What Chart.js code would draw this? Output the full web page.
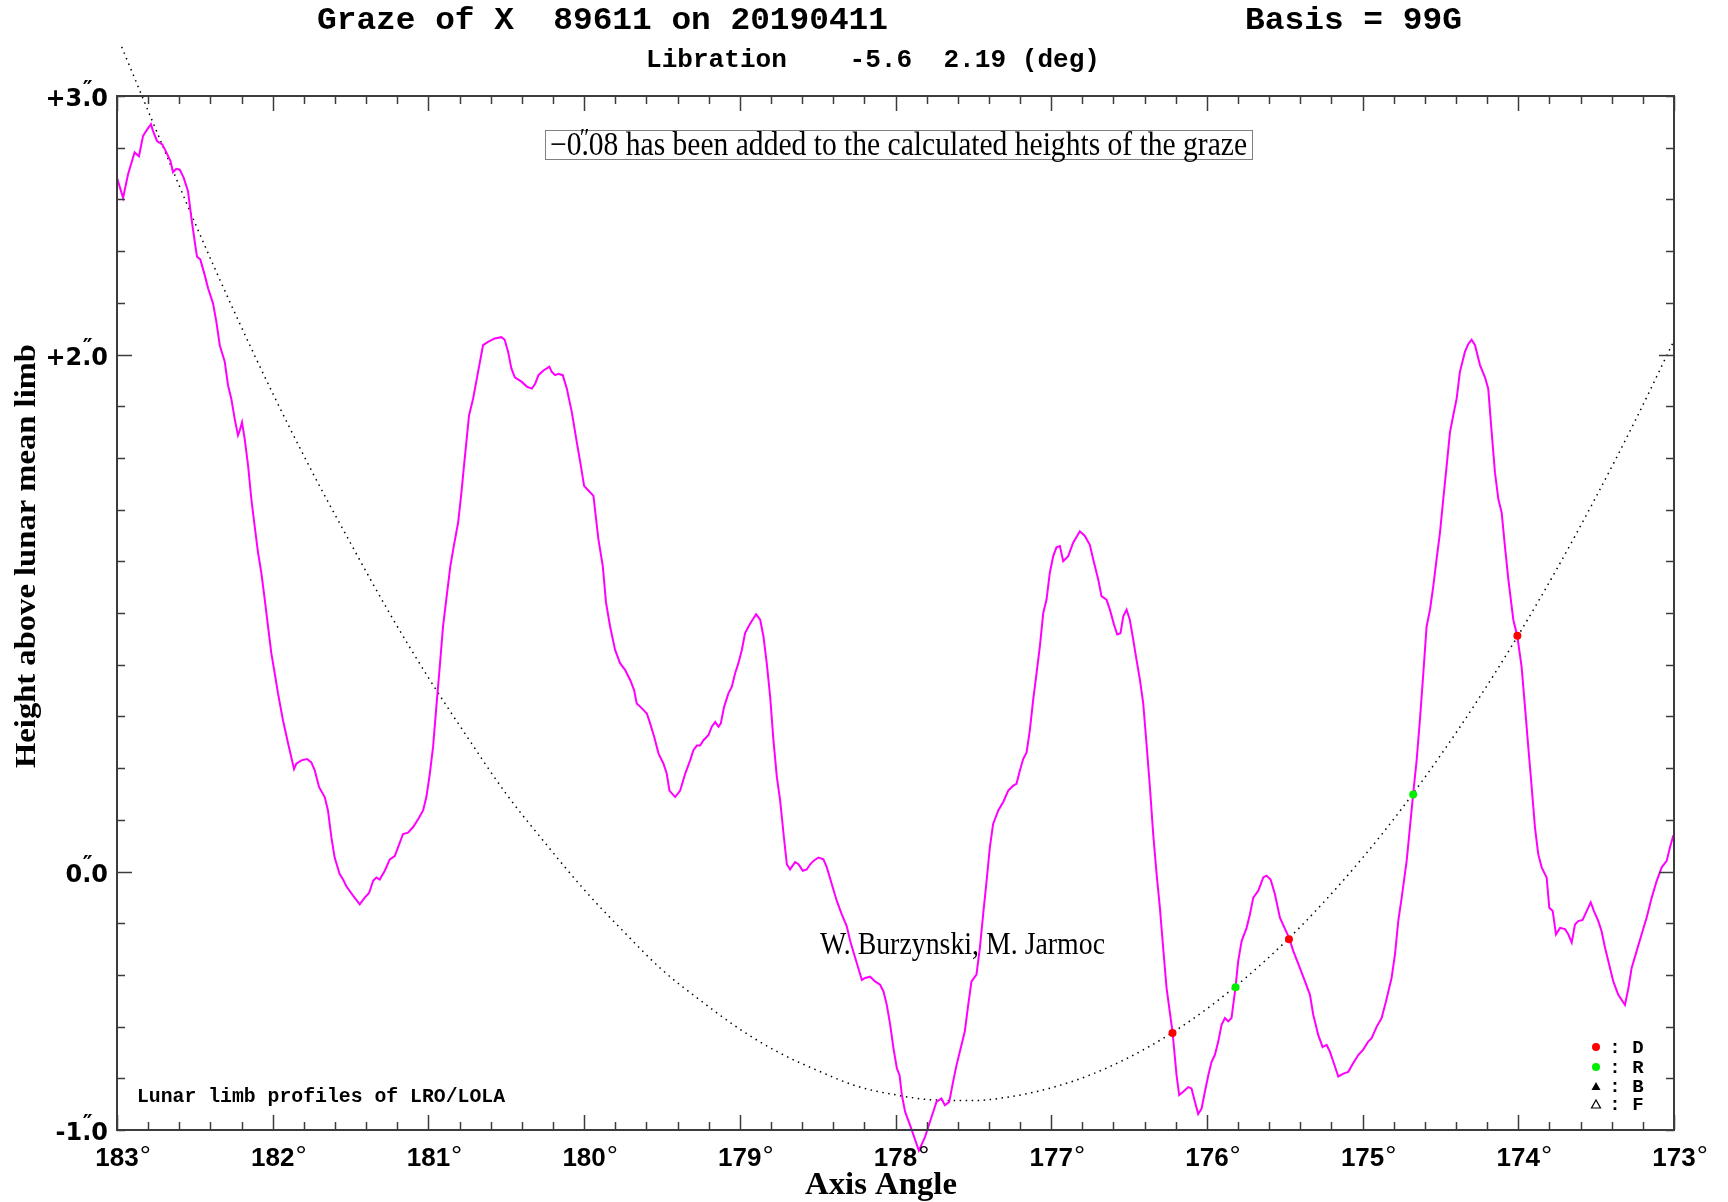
<!DOCTYPE html>
<html>
<head>
<meta charset="utf-8">
<script src="https://cdn.jsdelivr.net/npm/chart.js@4.4.1/dist/chart.umd.min.js"></script>
<style>
html,body{margin:0;padding:0;background:#fff;}
canvas{display:block;}
</style>
</head>
<body>
<canvas id="c" width="1728" height="1202"></canvas>
<script>
// ---------------- data ----------------
const limbAngle = [
183.000,182.961,182.929,182.887,182.859,182.833,182.807,182.782,182.769,182.743,182.709,182.683,182.657,182.640,182.619,182.597,182.572,182.544,182.522,182.501,
182.486,182.465,182.437,182.415,182.383,182.362,182.340,182.308,182.287,182.266,182.244,182.223,182.212,182.197,182.180,182.158,182.137,182.116,182.094,182.073,
182.051,182.030,182.009,181.987,181.966,181.934,181.901,181.863,181.848,181.816,181.779,181.752,181.730,181.702,181.666,181.645,181.623,181.602,181.570,181.548,
181.527,181.484,181.441,181.409,181.381,181.355,181.334,181.313,181.280,181.248,181.216,181.195,181.163,181.131,181.099,181.066,181.034,181.013,180.991,180.970,
180.949,180.927,180.906,180.880,180.859,180.837,180.809,180.788,180.767,180.739,180.713,180.681,180.649,180.617,180.574,180.531,180.510,180.488,180.467,180.445,
180.400,180.368,180.336,180.315,180.293,180.261,180.223,180.208,180.186,180.165,180.137,180.111,180.079,180.047,180.021,180.000,179.972,179.940,179.923,179.908,
179.880,179.859,179.833,179.801,179.769,179.737,179.704,179.679,179.662,179.630,179.597,179.576,179.550,179.522,179.490,179.469,179.452,179.415,179.383,179.351,
179.319,179.298,179.276,179.255,179.233,179.201,179.180,179.158,179.137,179.122,179.101,179.073,179.051,179.030,179.009,178.987,178.966,178.944,178.923,178.895,
178.869,178.848,178.827,178.805,178.784,178.762,178.741,178.719,178.698,178.677,178.645,178.623,178.595,178.570,178.548,178.527,178.495,178.463,178.441,178.409,
178.377,178.345,178.313,178.291,178.259,178.216,178.195,178.163,178.131,178.099,178.077,178.056,178.034,178.013,177.991,177.974,177.959,177.938,177.906,177.850,
177.812,177.779,177.737,177.705,177.683,177.655,177.630,177.608,177.587,177.555,177.533,177.512,177.480,177.458,177.437,177.415,177.394,177.373,177.340,177.308,
177.276,177.244,177.223,177.201,177.180,177.158,177.137,177.116,177.094,177.073,177.051,177.030,177.009,176.987,176.966,176.944,176.923,176.891,176.859,176.816,
176.784,176.752,176.730,176.698,176.677,176.645,176.623,176.597,176.576,176.555,176.537,176.516,176.495,176.473,176.452,176.430,176.409,176.388,176.366,176.345,
176.323,176.302,176.281,176.259,176.221,176.195,176.178,176.152,176.120,176.099,176.077,176.056,176.034,176.013,175.991,175.970,175.949,175.927,175.906,175.884,
175.863,175.842,175.816,175.799,175.777,175.745,175.724,175.702,175.670,175.638,175.617,175.591,175.563,175.531,175.473,175.445,175.403,175.370,175.338,175.317,
175.285,175.257,175.231,175.210,175.188,175.156,175.124,175.092,175.060,175.028,174.996,174.964,174.942,174.910,174.878,174.850,174.814,174.792,174.771,174.749,
174.717,174.696,174.675,174.653,174.632,174.610,174.589,174.567,174.546,174.525,174.503,174.482,174.460,174.439,174.418,174.396,174.375,174.343,174.321,174.300,
174.278,174.246,174.214,174.193,174.171,174.150,174.128,174.107,174.086,174.064,174.032,174.006,173.979,173.957,173.936,173.914,173.893,173.872,173.850,173.818,
173.801,173.779,173.758,173.732,173.700,173.679,173.657,173.636,173.615,173.587,173.561,173.535,173.514,173.486,173.465,173.443,173.411,173.390,173.358,173.315,
173.293,173.272,173.240,173.208,173.176,173.143,173.111,173.079,173.047,173.026,173.004
];
const limbHeight = [
2.684,2.606,2.697,2.782,2.767,2.845,2.870,2.891,2.865,2.826,2.813,2.782,2.749,2.705,2.718,2.715,2.684,2.632,2.528,2.438,
2.378,2.368,2.308,2.256,2.197,2.127,2.036,1.972,1.881,1.829,1.751,1.687,1.705,1.738,1.674,1.570,1.440,1.337,1.233,1.155,
1.052,0.948,0.845,0.767,0.689,0.585,0.495,0.396,0.417,0.430,0.435,0.422,0.391,0.326,0.288,0.236,0.132,0.054,-0.010,-0.031,
-0.057,-0.093,-0.127,-0.101,-0.083,-0.036,-0.023,-0.031,0.003,0.047,0.060,0.093,0.145,0.150,0.171,0.202,0.236,0.288,0.378,0.482,
0.637,0.793,0.948,1.078,1.181,1.259,1.350,1.466,1.596,1.764,1.829,1.933,2.036,2.049,2.062,2.067,2.057,2.010,1.946,1.912,
1.894,1.876,1.868,1.886,1.920,1.938,1.953,1.933,1.920,1.925,1.920,1.868,1.777,1.661,1.570,1.492,1.474,1.453,1.363,1.285,
1.181,1.039,0.948,0.857,0.806,0.780,0.741,0.702,0.650,0.632,0.611,0.573,0.521,0.456,0.417,0.378,0.313,0.288,0.313,0.378,
0.430,0.469,0.487,0.487,0.508,0.528,0.560,0.578,0.560,0.573,0.637,0.689,0.715,0.767,0.806,0.857,0.922,0.948,0.969,0.995,
0.974,0.909,0.806,0.676,0.508,0.365,0.275,0.145,0.028,0.008,0.036,0.028,0.003,0.008,0.028,0.041,0.054,0.047,0.016,-0.049,
-0.114,-0.166,-0.212,-0.269,-0.334,-0.420,-0.412,-0.407,-0.425,-0.438,-0.464,-0.516,-0.593,-0.684,-0.762,-0.788,-0.865,-0.930,-0.982,-1.080,
-1.030,-0.969,-0.891,-0.878,-0.904,-0.891,-0.813,-0.749,-0.697,-0.619,-0.516,-0.425,-0.399,-0.295,-0.166,-0.036,0.093,0.184,0.236,0.269,
0.313,0.332,0.339,0.391,0.435,0.461,0.547,0.663,0.767,0.870,1.000,1.052,1.155,1.220,1.254,1.259,1.200,1.220,1.272,1.316,
1.298,1.264,1.207,1.130,1.065,1.052,1.013,0.956,0.917,0.922,0.987,1.013,0.974,0.896,0.819,0.741,0.650,0.495,0.326,0.145,
-0.010,-0.140,-0.295,-0.451,-0.619,-0.788,-0.865,-0.852,-0.834,-0.839,-0.891,-0.938,-0.917,-0.852,-0.788,-0.736,-0.710,-0.658,-0.593,-0.567,
-0.580,-0.567,-0.446,-0.347,-0.269,-0.218,-0.166,-0.101,-0.075,-0.023,-0.016,-0.031,-0.088,-0.179,-0.256,-0.308,-0.373,-0.425,-0.477,-0.554,
-0.632,-0.679,-0.671,-0.697,-0.736,-0.793,-0.782,-0.775,-0.741,-0.710,-0.689,-0.658,-0.645,-0.601,-0.567,-0.503,-0.412,-0.321,-0.192,-0.101,
0.041,0.171,0.301,0.430,0.585,0.767,0.948,1.013,1.104,1.207,1.311,1.440,1.570,1.699,1.764,1.829,1.933,2.010,2.041,2.057,
2.036,1.959,1.912,1.868,1.699,1.544,1.440,1.389,1.259,1.130,0.974,0.909,0.793,0.637,0.482,0.326,0.171,0.067,0.016,-0.023,
-0.140,-0.153,-0.243,-0.218,-0.223,-0.243,-0.275,-0.205,-0.192,-0.187,-0.153,-0.119,-0.153,-0.192,-0.231,-0.295,-0.373,-0.425,-0.477,-0.516,
-0.451,-0.373,-0.308,-0.243,-0.179,-0.101,-0.036,0.016,0.041,0.093,0.140
];
const pathAngle = [182.97,182.75,182.5,182.25,182.0,181.75,181.5,181.25,181.0,180.75,180.5,180.25,180.0,179.75,179.5,179.25,179.0,178.75,178.5,178.25,178.0,177.75,177.5,177.25,177.0,176.75,176.5,176.25,176.0,175.75,175.5,175.25,175.0,174.75,174.5,174.25,174.0,173.75,173.5,173.25,173.0];
const pathHeight = [3.19,2.87,2.51,2.17,1.85,1.55,1.27,1.00,0.75,0.52,0.30,0.11,-0.07,-0.23,-0.38,-0.50,-0.61,-0.70,-0.77,-0.83,-0.864,-0.884,-0.886,-0.870,-0.837,-0.787,-0.719,-0.634,-0.531,-0.411,-0.274,-0.119,0.053,0.242,0.449,0.673,0.914,1.173,1.450,1.743,2.054];
const dAngle = [176.221, 175.473, 174.006];
const dHeight = [-0.625, -0.262, 0.912];
const rAngle = [175.816, 174.675];
const rHeight = [-0.448, 0.298];

const xTickValues = [183,182,181,180,179,178,177,176,175,174,173];
const xTickLabels = ['183°','182°','181°','180°','179°','178°','177°','176°','175°','174°','173°'];
const yTickValues = [3, 2, 0, -1];
const yTickLabels = ['+3″.0', '+2″.0', '0″.0', '-1″.0'];
const yMajorTicks = [2, 0];
const minorStep = 0.2;

const titleText = 'Graze of X  89611 on 20190411';
const basisText = 'Basis = 99G';
const librationText = 'Libration    -5.6  2.19 (deg)';
const noteText = ['−0', '″', '.', '08 has been added to the calculated heights of the graze'];
const observerText = 'W. Burzynski, M. Jarmoc';
const sourceText = 'Lunar limb profiles of LRO/LOLA';
const xTitle = 'Axis Angle';
const yTitle = 'Height above lunar mean limb';
const legendLabels = ['D', 'R', 'B', 'F'];

function pts(xa, ya) { return xa.map((v, i) => ({x: v, y: ya[i]})); }

// -------------- helpers -------------
function fitText(ctx, text, x, y, font, width, align) {
  ctx.save();
  ctx.font = font;
  ctx.textBaseline = 'middle';
  ctx.textAlign = 'left';
  const w = ctx.measureText(text).width;
  const s = width ? width / w : 1;
  let x0 = x;
  if (align === 'center') x0 = x - (w * s) / 2;
  ctx.translate(x0, y);
  ctx.scale(s, 1);
  ctx.fillText(text, 0, 0);
  ctx.restore();
}

const decor = {
  id: 'decor',
  afterDraw(chart) {
    const ctx = chart.ctx, a = chart.chartArea, xs = chart.scales.x, ys = chart.scales.y;
    ctx.save();
    // frame
    ctx.strokeStyle = '#3c3c3c';
    ctx.lineWidth = 2;
    ctx.strokeRect(a.left, a.top, a.right - a.left, a.bottom - a.top);
    // ticks
    ctx.lineWidth = 1.5;
    ctx.beginPath();
    const nx = Math.round((xs.max - xs.min) / minorStep);
    for (let i = 0; i <= nx; i++) {
      const v = xs.min + i * minorStep;
      const px = Math.round(xs.getPixelForValue(v)) + 0.5;
      const major = Math.abs(v - Math.round(v)) < 1e-6;
      const len = major ? 15 : 8;
      ctx.moveTo(px, a.bottom); ctx.lineTo(px, a.bottom - len);
      ctx.moveTo(px, a.top); ctx.lineTo(px, a.top + len);
    }
    const ny = Math.round((ys.max - ys.min) / minorStep);
    for (let i = 0; i <= ny; i++) {
      const v = ys.min + i * minorStep;
      const py = Math.round(ys.getPixelForValue(v)) + 0.5;
      const major = yMajorTicks.some(m => Math.abs(m - v) < 1e-6);
      const len = major ? 15 : 8;
      ctx.moveTo(a.left, py); ctx.lineTo(a.left + len, py);
      ctx.moveTo(a.right, py); ctx.lineTo(a.right - len, py);
    }
    ctx.stroke();

    ctx.fillStyle = '#000';
    // x tick labels
    const xf = 'bold 26px "Liberation Sans", Arial, sans-serif';
    ctx.textBaseline = 'middle';
    xTickValues.forEach((v, i) => {
      const lab = xTickLabels[i];
      const digits = lab.replace('°', '');
      const px = xs.getPixelForValue(v);
      ctx.font = xf;
      const w = ctx.measureText(digits).width;
      ctx.textAlign = 'center';
      ctx.fillText(digits, px, a.bottom + 29);
      ctx.textAlign = 'left';
      ctx.font = '28px "Liberation Sans", Arial, sans-serif';
      ctx.fillText('°', px + w / 2 + 1, a.bottom + 27);
    });
    // y tick labels
    const yf = 'bold 24px "DejaVu Sans", sans-serif';
    yTickValues.forEach((v, i) => {
      const lab = yTickLabels[i];
      const k = lab.indexOf('″');
      const pre = lab.slice(0, k), dot = lab.charAt(k + 1), post = lab.slice(k + 2);
      ctx.font = yf;
      const wPre = ctx.measureText(pre).width, wDot = ctx.measureText(dot).width, wPost = ctx.measureText(post).width;
      const right = a.left - 9;
      const py = ys.getPixelForValue(v) + 4;
      const x0 = right - wPre - wDot - wPost;
      ctx.textAlign = 'left';
      ctx.fillText(pre, x0, py);
      ctx.fillText(dot, x0 + wPre, py);
      ctx.fillText(post, x0 + wPre + wDot, py);
      ctx.font = 'bold 22px "DejaVu Sans", sans-serif';
      ctx.fillText('″', x0 + wPre + wDot * 0.05, py - 10);
    });

    // titles
    const mono = '"Liberation Mono", "Courier New", monospace';
    fitText(ctx, titleText, 317, 21, 'bold 32px ' + mono, 571);
    fitText(ctx, basisText, 1245, 21, 'bold 32px ' + mono, 217);
    fitText(ctx, librationText, 646, 60, 'bold 26px ' + mono, 454);

    // note box
    ctx.strokeStyle = '#808080';
    ctx.lineWidth = 1;
    ctx.strokeRect(545.5, 130.5, 707, 29);
    ctx.save();
    ctx.font = '33px "Liberation Serif", "Times New Roman", serif';
    ctx.textBaseline = 'middle';
    ctx.textAlign = 'left';
    const w0 = ctx.measureText(noteText[0]).width;
    const wd = ctx.measureText(noteText[2]).width;
    const w3 = ctx.measureText(noteText[3]).width;
    const s = 697 / (w0 + wd + w3);
    ctx.translate(550, 146);
    ctx.scale(s, 1);
    ctx.fillText(noteText[0], 0, 0);
    ctx.fillText(noteText[2], w0, 0);
    ctx.fillText(noteText[3], w0 + wd, 0);
    ctx.font = '26px "Liberation Serif", "Times New Roman", serif';
    ctx.fillText(noteText[1], w0 - 2, -7);
    ctx.restore();

    // observers
    fitText(ctx, observerText, 820, 946, '31px "Liberation Serif", "Times New Roman", serif', 285);
    // source
    fitText(ctx, sourceText, 137, 1097, 'bold 20px ' + mono, 368);

    // axis titles
    fitText(ctx, xTitle, 881, 1186, 'bold 31px "Liberation Serif", "Times New Roman", serif', 152, 'center');
    ctx.save();
    ctx.translate(27, 556);
    ctx.rotate(-Math.PI / 2);
    fitText(ctx, yTitle, 0, 0, 'bold 30px "Liberation Serif", "Times New Roman", serif', 424, 'center');
    ctx.restore();

    // legend
    const rows = [1047, 1067, 1086, 1104];
    const mx = 1596;
    ctx.fillStyle = '#ff0000';
    ctx.beginPath(); ctx.arc(mx, rows[0], 4, 0, Math.PI * 2); ctx.fill();
    ctx.fillStyle = '#00ee00';
    ctx.beginPath(); ctx.arc(mx, rows[1], 4, 0, Math.PI * 2); ctx.fill();
    ctx.fillStyle = '#000';
    ctx.beginPath(); ctx.moveTo(mx - 4.5, rows[2] + 4); ctx.lineTo(mx + 4.5, rows[2] + 4); ctx.lineTo(mx, rows[2] - 4); ctx.closePath(); ctx.fill();
    ctx.strokeStyle = '#000'; ctx.lineWidth = 1.2;
    ctx.beginPath(); ctx.moveTo(mx - 4.5, rows[3] + 4); ctx.lineTo(mx + 4.5, rows[3] + 4); ctx.lineTo(mx, rows[3] - 4); ctx.closePath(); ctx.stroke();
    ctx.font = 'bold 19px ' + mono;
    ctx.textBaseline = 'middle';
    ctx.textAlign = 'center';
    legendLabels.forEach((t, i) => {
      ctx.fillText(':', 1615, rows[i] + 1);
      ctx.fillText(t, 1638, rows[i] + 1);
    });
    ctx.restore();
  }
};

new Chart(document.getElementById('c'), {
  type: 'line',
  data: {
    datasets: [
      { label: 'D', data: pts(dAngle, dHeight), showLine: false, pointRadius: 4, pointBorderWidth: 0, pointBackgroundColor: '#ff0000', pointBorderColor: '#ff0000', clip: false },
      { label: 'R', data: pts(rAngle, rHeight), showLine: false, pointRadius: 4, pointBorderWidth: 0, pointBackgroundColor: '#00ee00', pointBorderColor: '#00ee00', clip: false },
      { label: 'limb', data: pts(limbAngle, limbHeight), borderColor: '#ff00ff', borderWidth: 2, pointRadius: 0, tension: 0, fill: false, clip: false },
      { label: 'path', data: pts(pathAngle, pathHeight), borderColor: '#000000', borderWidth: 1.5, borderDash: [1.5, 4.5], pointRadius: 0, tension: 0.4, cubicInterpolationMode: 'monotone', fill: false, clip: false }
    ]
  },
  options: {
    responsive: false,
    animation: false,
    devicePixelRatio: 1,
    layout: { padding: { left: 117, right: 54, top: 96, bottom: 72 } },
    scales: {
      x: { type: 'linear', reverse: true, min: 173, max: 183, display: false },
      y: { type: 'linear', min: -1, max: 3, display: false }
    },
    plugins: { legend: { display: false }, tooltip: { enabled: false } }
  },
  plugins: [decor]
});
</script>
</body>
</html>
